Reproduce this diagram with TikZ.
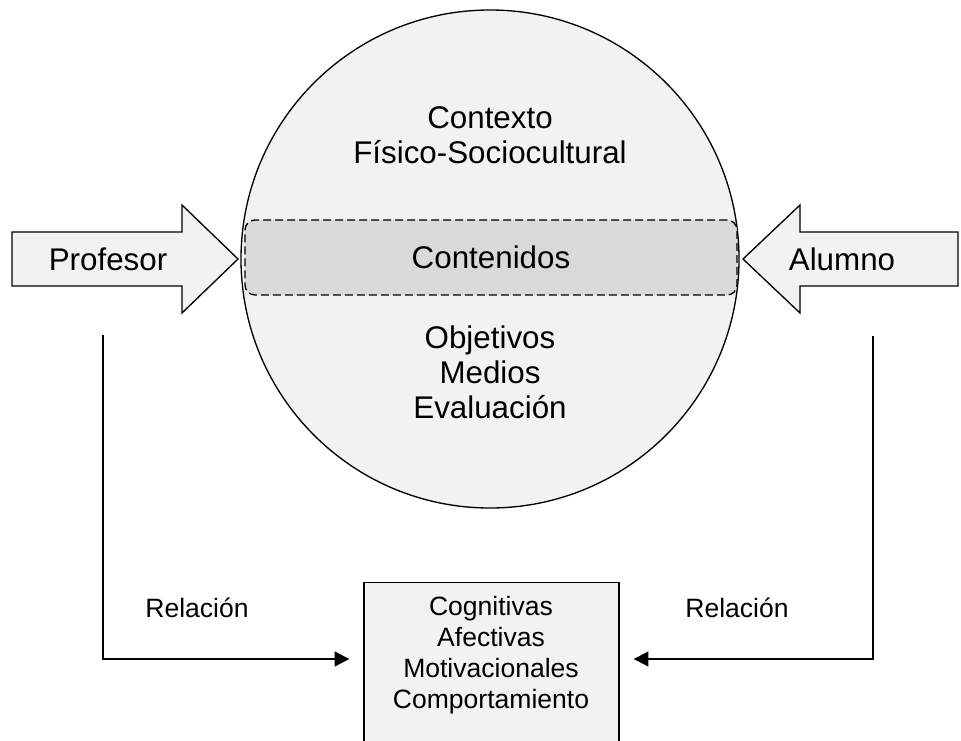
\documentclass[tikz,border=0pt]{standalone}
\usepackage{fontspec}
\setmainfont{Liberation Sans}
\usetikzlibrary{arrows.meta}
\definecolor{fondocol} {RGB}{242,242,242}
\definecolor{bandacol} {RGB}{217,217,217}

\begin{document}
\begin{tikzpicture}[x=0.75pt, y=-0.75pt,
    grande/.style={font=\fontsize{23.5}{26.25}\selectfont, align=center},
    chico/.style={font=\fontsize{19.9}{23.25}\selectfont, align=center},
    flecha/.style={draw=black, line width=1pt, fill=fondocol, line join=miter},
    rel/.style={line width=1.5pt, -{Triangle[length=11pt, width=11pt]}, shorten >=10.5pt}]

% Page frame
\useasboundingbox (0,0) rectangle (961,740);
\clip (0,0) rectangle (961,740);

% ================================================================
% CONTEXT circle and band
% ================================================================
\node[circle, draw, line width=1pt, fill=fondocol, minimum size=373.5pt,
      inner sep=0pt] (ctx) at (490,259) {};
\node[draw, dash pattern=on 6pt off 3pt, line width=1pt, fill=bandacol,
      rounded corners=7.5pt, minimum width=369pt, minimum height=56.25pt]
      (cont) at (491,257.5) {};

\node[grande] (fisico) at (490,135) {Contexto\\Físico-Sociocultural};
\node[grande] (contenidos) at (cont.center) {Contenidos};
\node[grande] (objetivos) at (490,372) {Objetivos\\Medios\\Evaluación};

% ================================================================
% PROFESOR / ALUMNO arrows
% ================================================================
\draw[flecha] (12,232) -- (182,232) -- (182,205) -- (238,259)
    -- (182,313) -- (182,286) -- (12,286) -- cycle;
\node[grande] (profesor) at (108,259) {Profesor};

\draw[flecha] (958,232) -- (800,232) -- (800,205) -- (743,259)
    -- (800,313) -- (800,286) -- (958,286) -- cycle;
\node[grande] (alumno) at (842,259) {Alumno};

% ================================================================
% RESULT box
% ================================================================
\node[draw, line width=1pt, fill=fondocol, anchor=north,
      minimum width=191.25pt, minimum height=135pt] (caja) at (491.5,582) {};
\node[chico] (rasgos) at (491,655)
    {Cognitivas\\Afectivas\\Motivacionales\\Comportamiento};

% Relations
\coordinate (pl) at (103,335);
\coordinate (al) at (873,336);
\draw[rel] (pl) |- (caja.west |- 0,659);
\draw[rel] (al) |- (caja.east |- 0,659);

\node[chico] (rel1) at (197,608) {Relación};
\node[chico] (rel2) at (737,608) {Relación};

\end{tikzpicture}
\end{document}
